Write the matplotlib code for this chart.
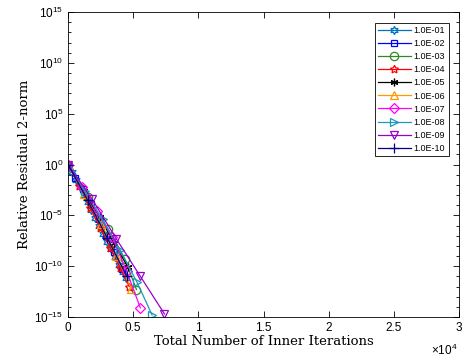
import matplotlib
matplotlib.use("Agg")
from matplotlib import pyplot as plt
from matplotlib.ticker import FixedLocator, NullFormatter

plt.rcParams['font.family'] = ['Liberation Sans', 'DejaVu Sans']
plt.rcParams['mathtext.fontset'] = 'custom'
plt.rcParams['mathtext.rm'] = 'Liberation Sans'

tol_labels = ['1.0E-01', '1.0E-02', '1.0E-03', '1.0E-04', '1.0E-05',
              '1.0E-06', '1.0E-07', '1.0E-08', '1.0E-09', '1.0E-10']

# total inner iterations and log10 of residual per tolerance
it_01 = [0, 300, 600, 900, 1200, 1500, 1800, 2100, 2400, 2700, 3000, 3300, 3600, 3900, 4200, 4450]
lr_01 = [0, -0.7, -1.5, -2.2, -3.0, -3.7, -4.5, -5.3, -6.0, -6.8, -7.6, -8.3, -9.1, -9.9, -10.6, -11.2]
it_02 = [0, 550, 1150, 1750, 2350, 2950, 3550, 4150]
lr_02 = [0, -1.3, -2.4, -3.9, -5.4, -7.0, -8.6, -10.3]
it_03 = [0, 1500, 3050, 4350, 5250]
lr_03 = [0, -3.2, -6.3, -9.3, -12.3]
it_04 = [0, 850, 1700, 2450, 3230, 4000, 4700]
lr_04 = [0, -2.1, -4.3, -6.2, -8.2, -10.2, -12.0]
it_05 = [0, 1200, 2450, 3500, 4600]
lr_05 = [0, -2.6, -5.2, -7.7, -10.1]
it_06 = [0, 1250, 2500, 3700, 4850]
lr_06 = [0, -2.9, -5.8, -9.0, -12.2]
it_07 = [0, 1100, 2200, 3380, 4500, 5550]
lr_07 = [0, -2.2, -4.6, -7.1, -10.5, -14.1]
it_08 = [0, 1300, 2650, 4000, 5300, 6450]
lr_08 = [0, -2.6, -5.4, -8.4, -11.6, -14.8]
it_09 = [0, 1850, 3700, 5550, 7400]
lr_09 = [0, -3.4, -7.3, -11.0, -14.7]
it_10 = [0, 1500, 3000, 4500]
lr_10 = [0, -3.5, -7.2, -11.0]

its = [it_01, it_02, it_03, it_04, it_05, it_06, it_07, it_08, it_09, it_10]
lrs = [lr_01, lr_02, lr_03, lr_04, lr_05, lr_06, lr_07, lr_08, lr_09, lr_10]

colors = ['#0072BD', '#0000FF', '#2E8B22', '#FF0000', '#000000',
          '#FF9900', '#FF00FF', '#1A9AB8', '#9900CC', '#000080']
markers = [(6, 1, 0), 's', 'o', (5, 1, 0), (6, 2, 0), '^', 'D', '>', 'v', '+']
msizes = [6, 5, 6, 6, 5.5, 6, 5, 6, 6, 7]

xticks = [0, 5000, 10000, 15000, 20000, 25000, 30000]
xticklabels = ['0', '0.5', '1', '1.5', '2', '2.5', '3']

fig = plt.figure(figsize=(4.66, 3.64), dpi=100)
ax = fig.add_axes([0.146, 0.129, 0.839, 0.838])

for x, lr, c, m, ms, lab in zip(its, lrs, colors, markers, msizes, tol_labels):
    y = [10.0 ** v for v in lr]
    ax.semilogy(x, y, '-', color=c, marker=m, markersize=ms, markerfacecolor='none',
                markeredgecolor=c, linewidth=0.9, markeredgewidth=0.9, label=lab)

ax.set_xlim(0, 30000)
ax.set_ylim(1e-15, 1e15)
ax.set_xticks(xticks)
ax.set_xticklabels(xticklabels)
ax.yaxis.set_major_locator(FixedLocator([10.0 ** e for e in range(-15, 16, 5)]))
ax.yaxis.set_minor_locator(FixedLocator([10.0 ** e for e in range(-15, 16)]))
ax.yaxis.set_minor_formatter(NullFormatter())
ax.tick_params(which='both', direction='in', top=True, right=True, labelsize=8.5, width=0.6)
ax.tick_params(which='major', length=4)
ax.tick_params(which='minor', length=2.5)
for s in ax.spines.values():
    s.set_linewidth(0.6)

ax.set_xlabel('Total Number of Inner Iterations', family='DejaVu Serif', fontsize=9.5, labelpad=1)
ax.set_ylabel('Relative Residual 2-norm', family='DejaVu Serif', fontsize=9.5, labelpad=2)
ax.text(0.995, -0.085, r'$\times10^4$', transform=ax.transAxes, ha='right', va='top', fontsize=8.5)

leg = ax.legend(loc='upper right', fontsize=6.5, fancybox=False, edgecolor='black',
                framealpha=1, handlelength=3.6, borderpad=0.4, labelspacing=0.45,
                handletextpad=0.3, bbox_to_anchor=(0.985, 0.98))
leg.get_frame().set_linewidth(0.6)

fig.savefig('out.png', dpi=100)
